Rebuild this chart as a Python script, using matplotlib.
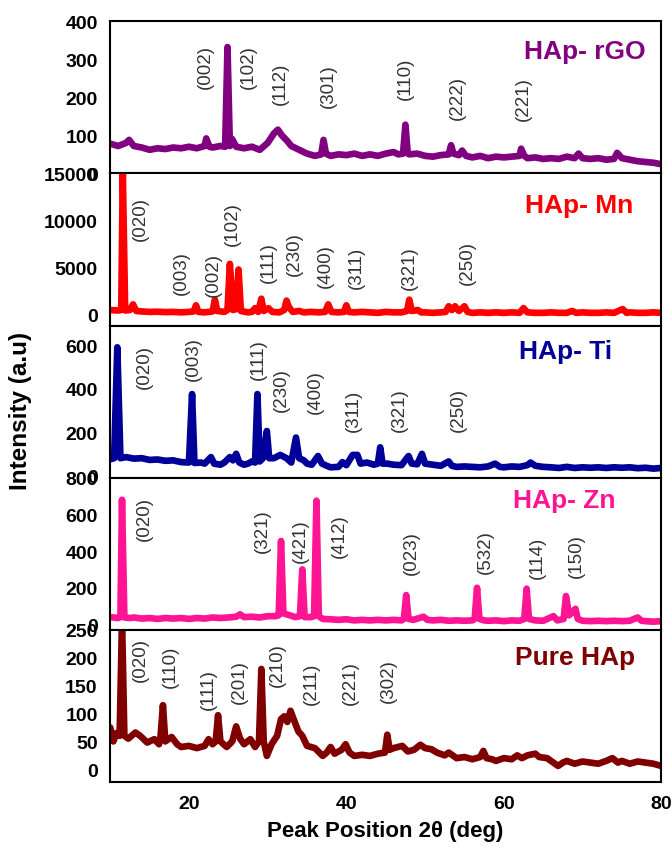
import matplotlib
matplotlib.use("Agg")
import matplotlib.pyplot as plt
import numpy as np

# ======================================
# Data
# ======================================
rgo_2theta = [10, 11, 12, 12.4, 13, 14, 15, 16, 17, 18, 19, 20, 21, 22, 22.2, 22.6, 23, 24, 24.6,
              24.9, 25.2, 25.5, 26, 27, 28, 29, 30, 30.8, 31.3, 31.8, 32.5, 33, 34, 35, 36, 36.8,
              37.1, 37.4, 38, 39, 40, 41, 42, 43, 44, 45, 46, 46.6, 47.2, 47.5, 47.8, 48, 49, 50,
              51, 52, 53, 53.3, 53.6, 54.3, 54.7, 55.2, 56, 57, 58, 59, 60, 61, 62, 62.2, 62.6, 63,
              64, 65, 66, 67, 68, 69, 69.5, 70, 71, 72, 73, 74, 74.4, 75, 76, 77, 78, 79, 80]
rgo_int = [78, 72, 80, 88, 72, 68, 62, 66, 64, 68, 66, 70, 66, 72, 92, 70, 68, 72, 70,
           332, 72, 90, 70, 66, 70, 62, 80, 105, 115, 100, 85, 72, 62, 52, 46, 50,
           88, 52, 46, 50, 48, 52, 46, 50, 46, 52, 56, 50, 52, 128, 52, 50, 52, 46,
           44, 48, 50, 74, 52, 48, 60, 46, 42, 46, 40, 44, 42, 44, 46, 65, 46, 40,
           42, 38, 40, 38, 44, 40, 52, 40, 38, 40, 36, 38, 54, 40, 36, 32, 30, 28, 24]

mn_2theta = [10, 11, 11.4, 11.6, 11.9, 12.5, 12.9, 13.3, 14, 15, 16, 17, 18, 19, 20, 20.6, 20.9,
             21.2, 22, 23, 23.3, 23.6, 24.5, 24.9, 25.2, 25.6, 26, 26.3, 26.6, 27.5, 28, 28.4,
             28.8, 29.2, 29.5, 30.1, 30.6, 31.5, 32.1, 32.4, 32.7, 33.2, 34, 34.6, 35.5, 36.5,
             37.3, 37.7, 38.1, 39, 39.7, 40, 40.3, 41, 42, 43, 44, 45, 46, 47, 47.7, 48, 48.3,
             49.1, 49.5, 50, 51, 52, 52.6, 53, 53.4, 53.8, 54.3, 55, 55.4, 56, 57, 58, 59, 60,
             61, 62, 62.5, 63, 64, 65, 66, 67, 68, 68.7, 69.2, 70, 71, 72, 73, 74, 75.1, 75.6,
             76, 77, 78, 79, 80]
mn_int = [500, 450, 500, 15000, 450, 500, 1100, 400, 350, 300, 320, 280, 300, 250, 300, 350, 1000,
          300, 250, 350, 1600, 400, 300, 500, 5400, 500, 600, 4800, 400, 250, 300, 700,
          300, 1700, 400, 700, 300, 250, 500, 1500, 800, 300, 400, 250, 300, 250,
          300, 1100, 300, 250, 300, 1000, 300, 250, 300, 250, 200, 300, 250, 250, 400, 1600, 400,
          500, 250, 250, 200, 250, 300, 900, 500, 900, 400, 900, 300, 200, 250, 200, 250, 200,
          250, 200, 700, 250, 200, 200, 250, 200, 200, 400, 200, 250, 200, 200, 250, 200, 600, 200,
          250, 200, 200, 250, 200]

ti_2theta = [10, 10.5, 10.9, 11.3, 12, 13, 14, 15, 16, 17, 18, 19, 20, 20.4, 20.7, 21.5, 22, 22.8,
             23.2, 24, 24.5, 25.2, 25.6, 26, 26.4, 27, 27.5, 28, 28.4, 28.7, 29, 29.4, 29.9, 30.2,
             30.8, 31.6, 32.4, 33, 33.6, 34, 34.6, 35, 35.6, 36.4, 36.9, 37.5, 38, 39, 39.5, 40,
             40.8, 41.4, 41.8, 42.6, 43.5, 44, 44.3, 44.6, 45.2, 46, 47, 47.9, 48.3, 49, 49.6, 50,
             51, 52, 53, 53.4, 54, 55, 56, 57, 58, 58.9, 59.5, 60, 61, 62, 63, 63.4, 64, 65, 66,
             67, 68, 69, 70, 71, 72, 73, 74, 75, 76, 77, 78, 79, 80]
ti_int = [75, 80, 590, 80, 85, 78, 80, 72, 74, 68, 70, 62, 60, 375, 58, 60, 55, 85,
          55, 50, 60, 85, 70, 100, 60, 50, 55, 65, 60, 375, 65, 80, 205, 80,
          80, 95, 80, 60, 175, 80, 70, 55, 50, 90, 55, 45, 38, 40, 62, 48,
          95, 95, 55, 60, 50, 55, 130, 55, 55, 50, 48, 90, 55, 52, 100, 55,
          50, 45, 65, 45, 40, 42, 40, 38, 42, 55, 40, 38, 42, 40, 48, 60, 45, 40, 38,
          35, 40, 35, 38, 36, 38, 35, 38, 36, 38, 34, 36, 32, 35]

zn_2theta = [10, 11, 11.3, 11.5, 11.8, 12.5, 13, 14, 15, 16, 17, 18, 19, 20, 21, 22, 23, 24, 25, 26,
             26.5, 27, 28, 29, 30, 31, 31.4, 31.7, 32, 32.8, 33.5, 34.1, 34.4, 34.7, 35.5, 35.9,
             36.2, 36.5, 37, 38, 39, 40, 41, 42, 43, 44, 45, 46, 47, 47.3, 47.6, 47.9, 48.5, 49.8,
             50.3, 51, 52, 53, 54, 55, 56, 56.3, 56.6, 56.9, 57.5, 58, 59, 60, 61, 62, 62.6, 62.9,
             63.2, 64, 65, 66.3, 66.8, 67.6, 67.9, 68.3, 69.1, 69.4, 70, 71, 72, 73, 74, 75, 76,
             77, 77.5, 78, 79, 80]
zn_int = [40, 35, 40, 680, 38, 35, 38, 32, 35, 30, 35, 32, 35, 30, 35, 32, 38, 35, 38, 42,
          55, 40, 42, 38, 45, 45, 50, 455, 60, 50, 40, 45, 300, 40, 40, 45,
          675, 45, 30, 28, 25, 28, 22, 25, 22, 25, 22, 25, 22, 30, 160, 30, 25, 42,
          25, 22, 25, 20, 22, 20, 22, 30, 200, 30, 22, 20, 22, 18, 22, 20, 30, 195,
          30, 22, 20, 45, 22, 30, 155, 50, 85, 30, 20, 18, 20, 18, 20, 18, 20,
          38, 20, 18, 15, 18]

pure_2theta = [10, 10.4, 10.8, 11.2, 11.5, 11.8, 12.3, 13.2, 13.8, 14.7, 15.6, 16.2, 16.4, 16.7, 17,
               17.8, 18.5, 19, 20, 21, 22, 22.5, 23, 23.4, 23.7, 24, 24.8, 25.5, 26, 26.5, 27,
               27.8, 28.4, 28.9, 29.2, 29.5, 29.9, 30.5, 31.2, 31.7, 32.1, 32.5, 32.9, 33.3, 33.9,
               34.4, 35, 36, 37, 37.5, 38, 38.5, 39.4, 39.9, 40.4, 41, 42, 43, 44, 44.9, 45.2,
               45.5, 46, 47.1, 47.8, 48.6, 49.4, 50, 50.8, 51.5, 52.5, 53, 54, 55, 56, 57, 57.4,
               57.8, 58.5, 59, 60, 61, 61.7, 62.3, 63, 64, 64.5, 65.5, 66.9, 67.5, 68, 69, 70, 71,
               72, 73, 73.8, 74.5, 75, 76, 77, 78, 79, 80]
pure_int = [75, 50, 65, 60, 270, 60, 55, 66, 60, 48, 54, 45, 60, 115, 50,
            58, 45, 40, 42, 38, 42, 54, 45, 50, 97, 50, 40, 50, 77, 55, 45,
            54, 40, 50, 180, 50, 24, 45, 60, 90, 95, 85, 105, 90, 68,
            60, 42, 38, 24, 30, 40, 28, 35, 45, 30, 24, 26, 24, 28, 30, 62,
            35, 38, 42, 32, 35, 44, 38, 36, 30, 25, 30, 20, 22, 18, 22, 33,
            20, 18, 15, 20, 18, 25, 20, 25, 28, 22, 20, 6, 12, 15, 10, 14, 12,
            10, 15, 20, 12, 15, 10, 14, 12, 10, 6]

# Miller indices written over the peaks
rgo_hkl = ["(002)", "(102)", "(112)", "(301)", "(110)", "(222)", "(221)"]
mn_hkl = ["(020)", "(003)", "(002)", "(102)", "(111)", "(230)", "(400)", "(311)", "(321)", "(250)"]
ti_hkl = ["(020)", "(003)", "(111)", "(230)", "(400)", "(311)", "(321)", "(250)"]
zn_hkl = ["(020)", "(321)", "(421)", "(412)", "(023)", "(532)", "(114)", "(150)"]
pure_hkl = ["(020)", "(110)", "(111)", "(201)", "(210)", "(211)", "(221)", "(302)"]

# ======================================
# Style
# ======================================
plt.rcParams.update({
    "font.family": ["Liberation Sans", "DejaVu Sans"],
    "font.size": 14,
    "axes.linewidth": 1.5,
})

panels = [
    dict(name="HAp- rGO", x=rgo_2theta, y=rgo_int, color="#800080",
         ylim=(0, 400), ticks=[0, 100, 200, 300, 400],
         hkl=rgo_hkl,
         hkl_pos=[(22.1, 281), (27.5, 281), (31.6, 238), (37.7, 233), (47.5, 252), (54.1, 201), (62.5, 199)],
         title_pos=(78.0, 321)),
    dict(name="HAp- Mn", x=mn_2theta, y=mn_int, color="#FF0000",
         ylim=(-1150, 15000), ticks=[0, 5000, 10000, 15000],
         hkl=mn_hkl,
         hkl_pos=[(13.8, 10300), (19.1, 4560), (23.1, 4350), (25.5, 9750), (30.1, 5600),
                  (33.4, 6550), (37.3, 5300), (41.3, 5100), (48.0, 5100), (55.4, 5600)],
         title_pos=(76.5, 11660)),
    dict(name="HAp- Ti", x=ti_2theta, y=ti_int, color="#000099",
         ylim=(-10, 690), ticks=[0, 200, 400, 600],
         hkl=ti_hkl,
         hkl_pos=[(14.4, 503), (20.6, 540), (28.8, 540), (31.7, 400), (36.1, 387),
                  (40.9, 304), (46.7, 304), (54.2, 308)],
         title_pos=(73.8, 573)),
    dict(name="HAp- Zn", x=zn_2theta, y=zn_int, color="#FF1493",
         ylim=(-30, 800), ticks=[0, 200, 400, 600, 800],
         hkl=zn_hkl,
         hkl_pos=[(14.4, 581), (29.3, 516), (34.1, 461), (39.1, 489), (48.2, 396),
                  (57.6, 401), (64.3, 369), (69.2, 380)],
         title_pos=(74.2, 680)),
    dict(name="Pure HAp", x=pure_2theta, y=pure_int, color="#800000",
         ylim=(-23, 250), ticks=[0, 50, 100, 150, 200, 250],
         hkl=pure_hkl,
         hkl_pos=[(13.8, 198), (17.7, 185), (22.5, 144), (26.4, 158), (31.2, 189),
                  (35.6, 155), (40.5, 156), (45.3, 160)],
         title_pos=(76.7, 201)),
]

# ======================================
# Layout
# ======================================
fig, axes = plt.subplots(5, 1, figsize=(6.72, 8.54), dpi=100, sharex=True,
                         gridspec_kw=dict(hspace=0))
fig.subplots_adjust(left=0.164, right=0.984, top=0.974, bottom=0.083)

for ax, p in zip(axes, panels):
    ax.plot(p["x"], p["y"], color=p["color"], linewidth=4.8,
            solid_joinstyle="round", solid_capstyle="round")
    ax.set_xlim(10, 80)
    ax.set_ylim(*p["ylim"])
    ax.set_yticks(p["ticks"])
    ax.set_yticklabels([str(t) for t in p["ticks"]], fontweight="bold", fontsize=14)
    ax.tick_params(axis="both", length=0, pad=9)

    for lbl, (xx, yy) in zip(p["hkl"], p["hkl_pos"]):
        ax.text(xx, yy, lbl, rotation=90, ha="center", va="center",
                fontsize=13.5, color="#333333")

    ax.text(p["title_pos"][0], p["title_pos"][1], p["name"], ha="right", va="center",
            fontsize=19, fontweight="bold", color=p["color"])

    for spine in ax.spines.values():
        spine.set_color("black")
        spine.set_linewidth(1.5)

axes[-1].set_xticks([20, 40, 60, 80])
axes[-1].set_xticklabels(["20", "40", "60", "80"], fontweight="bold", fontsize=14)

fig.text(0.573, 0.014, "Peak Position 2θ (deg)", ha="center", va="bottom",
         fontsize=16, fontweight="bold")
fig.text(0.03, 0.519, "Intensity (a.u)", ha="center", va="center", rotation=90,
         fontsize=17.5, fontweight="bold")

fig.savefig("out.png", dpi=100)
